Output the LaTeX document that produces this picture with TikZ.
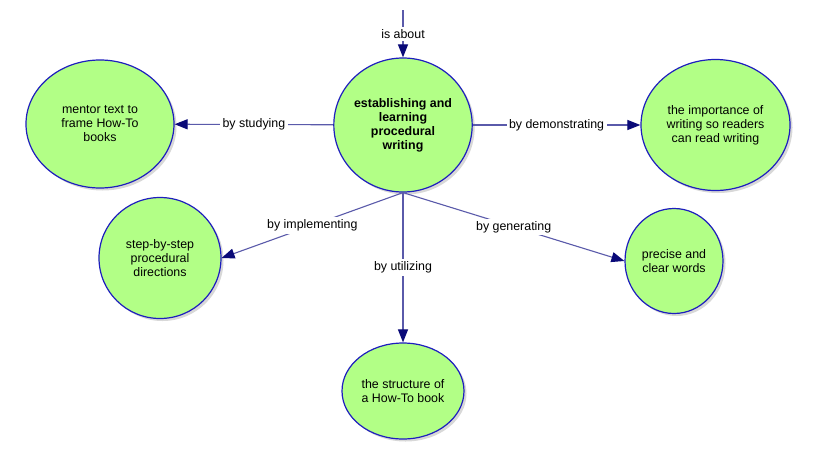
\documentclass[tikz,border=0pt]{standalone}
\usepackage{fontspec}
\setmainfont{Liberation Sans}
\usetikzlibrary{arrows.meta,shapes.geometric,shadows}
\definecolor{nodefill}{RGB}{178,255,134}
\definecolor{nodeborder}{RGB}{30,30,190}
\definecolor{linecol}{RGB}{90,90,170}
\definecolor{tipcol}{RGB}{10,10,120}
\tikzset{
  concept/.style={ellipse, draw=nodeborder, line width=1.2pt, fill=nodefill, inner sep=0pt,
    align=center, font=\fontsize{12.4}{14}\selectfont,
    drop shadow={shadow xshift=2.5pt, shadow yshift=-2.5pt, opacity=0.25, fill=black!60}},
  conn/.style={draw=linecol, line width=1.1pt,
    -{Triangle[length=13pt,width=10pt,color=tipcol]}},
  lbl/.style={fill=white, inner sep=2.5pt, font=\fontsize{12.4}{14}\selectfont, pos=0.5}
}
\begin{document}
\begin{tikzpicture}[x=1pt,y=-1pt]
\useasboundingbox (0,0) rectangle (813,461);
\fill[white] (0,0) rectangle (813,461);
\node[concept, minimum width=136pt, minimum height=134pt, font=\fontsize{12.4}{14}\selectfont\bfseries]
  (c) at (403,125) {establishing and\\learning\\procedural\\writing};
\node[concept, minimum width=148pt, minimum height=128pt] (mentor) at (100,124) {mentor text to\\frame How-To\\books};
\node[concept, minimum width=149pt, minimum height=131pt] (importance) at (715.5,125) {the importance of\\writing so readers\\can read writing};
\node[concept, minimum width=122pt, minimum height=121pt] (steps) at (160,258) {step-by-step\\procedural\\directions};
\node[concept, minimum width=98pt, minimum height=105pt] (precise) at (674,261) {precise and\\clear words};
\node[concept, minimum width=122pt, minimum height=96pt] (structure) at (403,391) {the structure of\\a How-To book};
\coordinate (topend) at (403,10);
\draw[conn] (topend) -- node[lbl]{is about} (c);
\draw[conn] (c) -- node[lbl]{by studying} (mentor);
\draw[conn] (c) -- node[lbl]{by demonstrating} (importance);
\draw[conn] (c.south) -- node[lbl]{by implementing} (steps.east);
\draw[conn] (c.south) -- node[lbl]{by generating} (precise.west);
\draw[conn] (c.south) -- node[lbl]{by utilizing} (structure);
\end{tikzpicture}
\end{document}
